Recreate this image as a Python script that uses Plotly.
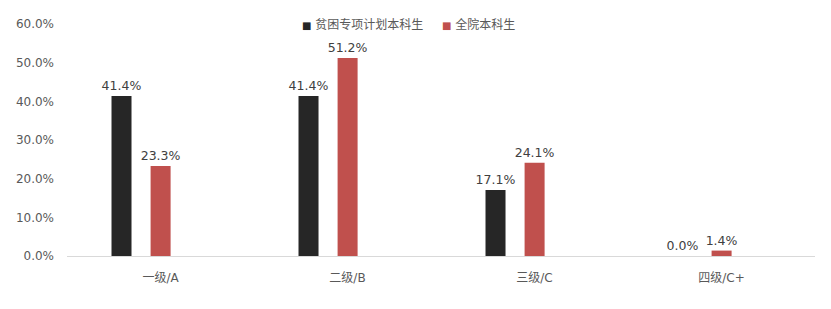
import plotly.graph_objects as go

categories = ["一级/A", "二级/B", "三级/C", "四级/C+"]
series_names = ["贫困专项计划本科生", "全院本科生"]
poor_values = [0.414, 0.414, 0.171, 0.000]
all_values = [0.233, 0.512, 0.241, 0.014]
colors = ["#262626", "#C0504D"]

x_idx = list(range(len(categories)))
bar_w = 0.107
offsets = [-0.262, -0.053]

fig = go.Figure()
for name, vals, col, off in zip(series_names, [poor_values, all_values], colors, offsets):
    fig.add_trace(go.Bar(
        x=x_idx, y=vals, name=name, marker_color=col, marker_line_width=0,
        width=bar_w, offset=off,
        texttemplate="%{y:.1%}", textposition="outside", constraintext="none",
        textfont=dict(color="#404040", size=12.5),
        cliponaxis=False, showlegend=False,
    ))

# legend drawn as annotations
legend_x = [0.312, 0.498]
for name, col, lx in zip(series_names, colors, legend_x):
    fig.add_annotation(
        xref="paper", yref="paper", x=lx, y=1.0, xanchor="left", yanchor="middle",
        text=f"<span style='color:{col};font-size:10px'>■</span> {name}",
        showarrow=False, font=dict(size=12, color="#595959"),
    )

fig.update_layout(
    width=831, height=309,
    margin=dict(l=67, r=16, t=24, b=53),
    paper_bgcolor="white", plot_bgcolor="white",
    font=dict(family="DejaVu Sans, Noto Sans CJK SC", color="#595959", size=12),
    barmode="overlay",
    xaxis=dict(tickmode="array", tickvals=x_idx, ticktext=categories, range=[-0.5, 3.5],
               showgrid=False, showline=True, linecolor="#D9D9D9", linewidth=1,
               ticks="outside", ticklen=11, tickcolor="rgba(0,0,0,0)",
               zeroline=False, tickfont=dict(size=12, color="#595959")),
    yaxis=dict(range=[0, 0.6], dtick=0.1, tickformat=".1%", showgrid=False,
               zeroline=False, showline=False, ticks="", ticklabelstandoff=12,
               tickfont=dict(size=12, color="#595959")),
)

fig.write_html("out.html")
